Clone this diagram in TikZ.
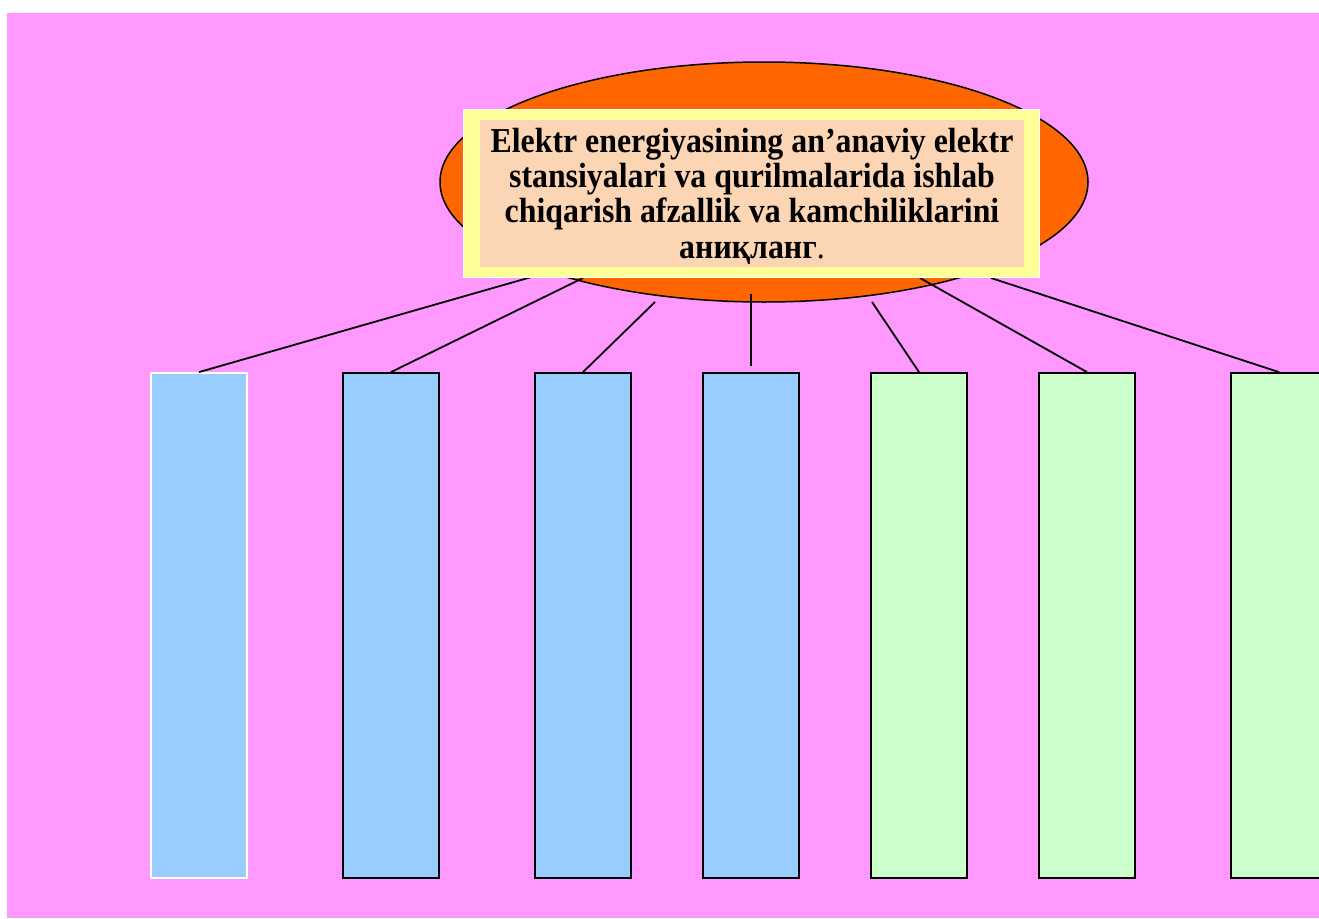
\documentclass[tikz,border=0pt]{standalone}
\usepackage{fontspec}
\setmainfont{Liberation Serif}
\newfontfamily\notefont{Liberation Serif}[FakeStretch=0.91]
\usepackage{tikz}
\usetikzlibrary{shapes.geometric}

\definecolor{slidepink}{HTML}{FF99FF}
\definecolor{ovalorange}{HTML}{FF6600}
\definecolor{frameyellow}{HTML}{FFFF99}
\definecolor{notepeach}{HTML}{FCD5B5}
\definecolor{colblue}{HTML}{99CCFF}
\definecolor{colgreen}{HTML}{CCFFCC}

\begin{document}
\begin{tikzpicture}[x=1pt, y=-1pt,
    link/.style={line width=1.8pt},
    column/.style={rectangle, draw=black, line width=1.8pt,
                   minimum width=96pt, minimum height=505pt, inner sep=0pt},
    bluecol/.style={column, fill=colblue},
    greencol/.style={column, fill=colgreen}]
\useasboundingbox (0, 0) rectangle (1319, 918);
\fill[white]      (0, 0) rectangle (1319, 918);
\fill[slidepink]  (7, 13) rectangle (1319, 918);

% oval behind the question
\node[ellipse, draw=black, line width=1.5pt, fill=ovalorange,
      minimum width=648pt, minimum height=240pt, inner sep=0pt] (oval) at (764, 182) {};

% connector ends
\coordinate (s1) at (535, 276);
\coordinate (s2) at (583, 278);
\coordinate (s3) at (655, 302);
\coordinate (s4) at (751, 294);
\coordinate (s5) at (872, 302);
\coordinate (s6) at (920, 278);
\coordinate (s7) at (991, 278);
\coordinate (t4) at (751, 366);

% columns
\node[bluecol, draw=white] (c1) at ( 199, 625.5) {};
\node[bluecol]             (c2) at ( 391, 625.5) {};
\node[bluecol]             (c3) at ( 583, 625.5) {};
\node[bluecol]             (c4) at ( 751, 625.5) {};
\node[greencol]            (c5) at ( 919, 625.5) {};
\node[greencol]            (c6) at (1087, 625.5) {};
\node[greencol]            (c7) at (1279, 625.5) {};

\draw[link] (s1) -- (c1.north);
\draw[link] (s2) -- (c2.north);
\draw[link] (s3) -- (c3.north);
\draw[link] (s4) -- (t4);
\draw[link] (s5) -- (c5.north);
\draw[link] (s6) -- (c6.north);
\draw[link] (s7) -- (c7.north);

% question box
\node[rectangle, fill=frameyellow, draw=white, line width=0.8pt,
      minimum width=576pt, minimum height=168pt, inner sep=0pt] (frame) at (751, 193) {};
\node[rectangle, fill=notepeach, minimum width=544pt, minimum height=147pt,
      inner sep=0pt] (note) at (752, 193.5) {};
\node[align=center, font=\notefont\fontsize{35}{35.3}\selectfont\bfseries,
      inner sep=0pt] (question) at (752, 196)
  {Elektr energiyasining an’anaviy elektr\\
   stansiyalari va qurilmalarida ishlab\\
   chiqarish afzallik va kamchiliklarini\\
   аниқланг\textmd{.}};
\end{tikzpicture}
\end{document}
